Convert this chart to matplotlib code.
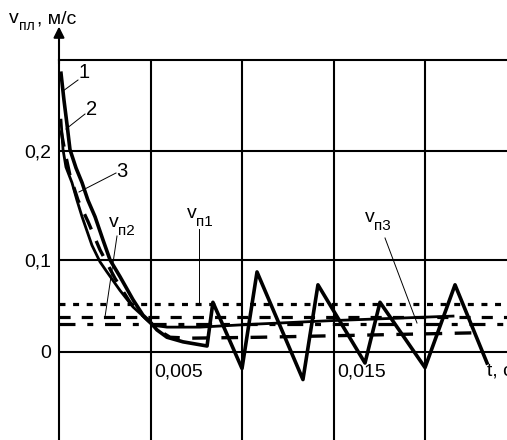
import numpy as np
import matplotlib.pyplot as plt

plt.rcParams['font.family'] = ['Liberation Sans', 'DejaVu Sans']
plt.rcParams['lines.scale_dashes'] = False

# curve 1 - thick, goes into oscillation
t1 = [0.00011, 0.00027, 0.00044, 0.00060, 0.00093, 0.00126, 0.00158, 0.00197,
      0.00240, 0.00279, 0.00333, 0.00404, 0.00459, 0.00497, 0.00535, 0.00590,
      0.00678, 0.00809, 0.00841, 0.01000, 0.01082, 0.01333, 0.01415, 0.01672,
      0.01754, 0.02000, 0.02164, 0.02339]
v1 = [0.303, 0.274, 0.247, 0.220, 0.200, 0.184, 0.165, 0.147,
      0.122, 0.100, 0.082, 0.057, 0.040, 0.033, 0.024, 0.016,
      0.011, 0.0065, 0.054, -0.018, 0.087, -0.030, 0.073, -0.012,
      0.054, -0.017, 0.073, -0.012]

# curve 2 - solid, settles and rises slowly
t2 = [0.00011, 0.00022, 0.00038, 0.00071, 0.00098, 0.00126, 0.00180, 0.00224,
      0.00262, 0.00333, 0.00404, 0.00481, 0.00514, 0.00590, 0.00770, 0.01044,
      0.01481, 0.02153]
v2 = [0.252, 0.220, 0.201, 0.184, 0.165, 0.147, 0.116, 0.098,
      0.087, 0.067, 0.049, 0.035, 0.029, 0.027, 0.027, 0.030,
      0.034, 0.039]

# curve 3 - dashed
t3 = [0.00011, 0.00033, 0.00060, 0.00104, 0.00158, 0.00224, 0.00306, 0.00388,
      0.00470, 0.00541, 0.00607, 0.00716, 0.01098, 0.01590, 0.02317]
v3 = [0.241, 0.217, 0.192, 0.165, 0.142, 0.111, 0.080, 0.054,
      0.037, 0.024, 0.016, 0.015, 0.016, 0.018, 0.021]

# limit levels
v_p1 = 0.052
v_p2 = 0.038
v_p3 = 0.030

xgrid = [0.005, 0.010, 0.015, 0.020]
ygrid = [0, 0.1, 0.219]
ylabels = ['0', '0,1', '0,2']

W, H = 507, 440
fig = plt.figure(figsize=(W / 100, H / 100), dpi=100)

def px(x, y):
    return (x / W, 1 - y / H)

ax = fig.add_axes([59 / W, 0, (W - 59) / W, 380 / H])
ax.set_xlim(0, 0.02448)
ax.set_ylim(-0.0957, 0.3174)

for s in ['right', 'bottom']:
    ax.spines[s].set_visible(False)
for s in ['left', 'top']:
    ax.spines[s].set_linewidth(1.5)

ax.set_xticks(xgrid)
ax.set_xticklabels([])
ax.set_yticks(ygrid)
ax.set_yticklabels(ylabels, fontsize=14)
ax.tick_params(length=0, pad=5.5)
ax.grid(True, color='k', lw=1.5)
ax.set_axisbelow(True)

# constant levels
ax.axhline(v_p1, color='k', lw=2.3, dashes=(4.3, 5.5))
ax.axhline(v_p2, color='k', lw=2.3, dashes=(8, 8))
ax.axhline(v_p3, color='k', lw=2.3, dashes=(11.5, 8.5, 4.3, 8.5))

# curves
ax.plot(t3, v3, color='k', lw=2.4, dashes=(12, 9))
ax.plot(t2, v2, color='k', lw=2.0)
ax.plot(t1, v1, color='k', lw=2.6)

# y-axis arrow
ax.annotate('', xy=(0, 1.088), xytext=(0, 0.99), xycoords='axes fraction',
            arrowprops=dict(arrowstyle='-|>', lw=1.5, color='k', mutation_scale=16,
                            shrinkA=0, shrinkB=0))

# x tick labels at the zero line
for t, lab in [(0.005, '0,005'), (0.015, '0,015')]:
    ax.annotate(lab, xy=(t, 0), xytext=(2.5, -8), textcoords='offset points',
                ha='left', va='top', fontsize=14)
fig.text(*px(487, 363), 't, c', ha='left', va='top', fontsize=14)

# axis title
fig.text(*px(9, 23), 'v', fontsize=14, va='baseline')
fig.text(*px(19, 30), 'пл', fontsize=10, va='baseline')
fig.text(*px(37, 23), ', м/с', fontsize=14, va='baseline')

# curve numbers and leader lines
leaders = [((78, 80), (63, 91)), ((85, 114), (66, 129)), ((116, 173), (79, 192)),
           ((199, 229), (199, 303)), ((117, 236), (105, 317)), ((385, 238), (417, 323))]
for (xa, ya), (xb, yb) in leaders:
    a, b = px(xa, ya), px(xb, yb)
    fig.add_artist(plt.Line2D([a[0], b[0]], [a[1], b[1]], color='k', lw=0.7))

fig.text(*px(78, 78), '1', fontsize=14.5, va='baseline')
fig.text(*px(86, 115), '2', fontsize=14.5, va='baseline')
fig.text(*px(116, 177), '3', fontsize=14.5, va='baseline')

for (xv, yv, sub) in [(187, 218, 'п1'), (109, 227, 'п2'), (365, 222, 'п3')]:
    fig.text(*px(xv, yv), 'v', fontsize=14, va='baseline')
    fig.text(*px(xv + 9, yv + 8), sub, fontsize=11, va='baseline')

fig.savefig('out.png', dpi=100)
